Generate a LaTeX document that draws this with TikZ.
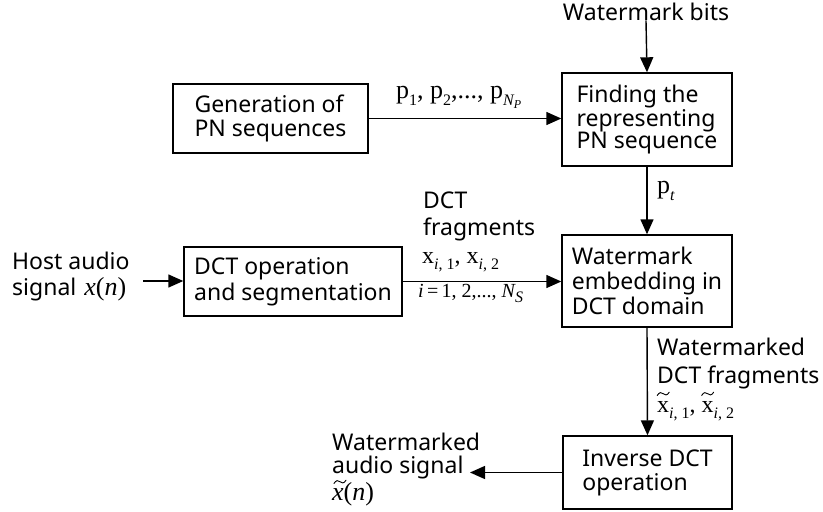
\documentclass[tikz,border=0pt]{standalone}
\usepackage{graphicx}
\usepackage{fontspec}
\setmainfont{Noto Sans}
\newfontfamily\tms{Liberation Serif}
\usetikzlibrary{arrows.meta}

% lowered index and second-level index in the serif formula font
\newcommand{\sub}[1]{\raisebox{-0.28em}{\fontsize{16}{16}\selectfont #1}}
\newcommand{\subsub}[1]{\raisebox{-0.22em}{\fontsize{12}{12}\selectfont #1}}
% wide tilde stroke drawn over a letter
\newcommand{\tldmark}{\tikz[baseline=0pt,x=1pt,y=1pt]
  \draw[line width=0.9pt, line cap=round] (0,16.5) .. controls (2,20) and (4.5,20) .. (6,18.3)
    .. controls (7.5,16.6) and (10,16.2) .. (12,19.8);}
\newcommand{\tld}[2][0pt]{\setbox0\hbox{#2}\makebox[0pt][l]{\hspace*{#1}\makebox[\wd0]{\tldmark}}\box0}

\tikzset{
  stage/.style={draw, line width=1.4pt, align=left, inner sep=0pt,
    font=\fontsize{23}{24}\selectfont},
  lbl/.style={anchor=base west, inner sep=0pt, font=\fontsize{23}{24}\selectfont},
  flow/.style={line width=1.4pt, -{Triangle[length=15pt,width=13pt]}},
  frm/.style={font=\tms\fontsize{26}{26}\selectfont}
}

\begin{document}
\begin{tikzpicture}[x=1pt,y=-1pt]
\useasboundingbox (0,0) rectangle (823,512);

% processing stages
\node[stage, minimum width=195pt, minimum height=69pt] (gen) at (270.5,118.5)
  {Generation of\\PN sequences};
\node[stage, minimum width=170pt, minimum height=93pt,
  font=\fontsize{23}{22}\selectfont] (find) at (647,119.5)
  {Finding the\\representing\\PN sequence};
\node[stage, minimum width=170pt, minimum height=92pt,
  font=\fontsize{23}{25}\selectfont] (emb) at (647,281)
  {Watermark\\embedding in\\DCT domain};
\node[stage, minimum width=218pt, minimum height=69pt,
  font=\fontsize{23}{26}\selectfont] (dct) at (293,281.5)
  {DCT operation\\and segmentation};
\node[stage, minimum width=169pt, minimum height=73pt,
  font=\fontsize{23}{24}\selectfont] (inv) at (647.5,472.5)
  {Inverse DCT\\operation};

% input and output texts
\node[lbl, anchor=base] (bits) at (646,20) {Watermark bits};
\node[lbl] (host1) at (12,269) {Host audio};
\node[lbl] (host2) at (12,295)
  {signal\hspace{8pt}{\tms\fontsize{26}{26}\selectfont{\itshape x}({\itshape n})}};
\coordinate (hostend) at (143,281);
\node[lbl] (out1) at (332,450) {Watermarked};
\node[lbl] (out2) at (332,473) {audio signal};
\node[lbl, frm] (out3) at (332,500)
  {\tld[2pt]{\itshape x}({\itshape n})};
\coordinate (outend) at (470,472.5);

% connectors
\draw[flow] (bits.south) -- (find.north);
\draw[flow] (gen.east) -- (gen.east -| find.west);
\draw[flow] (find.south) -- (emb.north);
\draw[flow] (hostend) -- (hostend -| dct.west);
\draw[flow] (dct.east) -- (dct.east -| emb.west);
\draw[flow] (emb.south) -- (inv.north);
\draw[flow] (inv.west) -- (outend);

% connector labels
\node[lbl, frm] (pseq) at (396,98)
  {p\sub{1}, p\sub{2},..., p\sub{\itshape N\subsub{P}}};
\node[lbl, frm] (pt) at (657,193) {p\sub{\itshape t}};
\node[lbl] (fr1) at (423,208) {DCT};
\node[lbl] (fr2) at (423,235) {fragments};
\node[lbl, frm, font=\tms\fontsize{24}{24}\selectfont] (fr3) at (422,263)
  {x\sub{\itshape i\upshape , 1}, x\sub{\itshape i\upshape , 2}};
\node[lbl, frm, font=\tms\fontsize{20}{20}\selectfont] (idx) at (418,297)
  {{\itshape i}\,=\,1, 2,..., {\itshape N}\sub{\itshape S}};
\node[lbl] (wf1) at (657,355) {Watermarked};
\node[lbl] (wf2) at (657,383) {DCT fragments};
\node[lbl, frm, font=\tms\fontsize{24}{24}\selectfont] (wf3) at (657,412)
  {\tld{x}\sub{\itshape i\upshape , 1}, \tld{x}\sub{\itshape i\upshape , 2}};
\end{tikzpicture}
\end{document}
